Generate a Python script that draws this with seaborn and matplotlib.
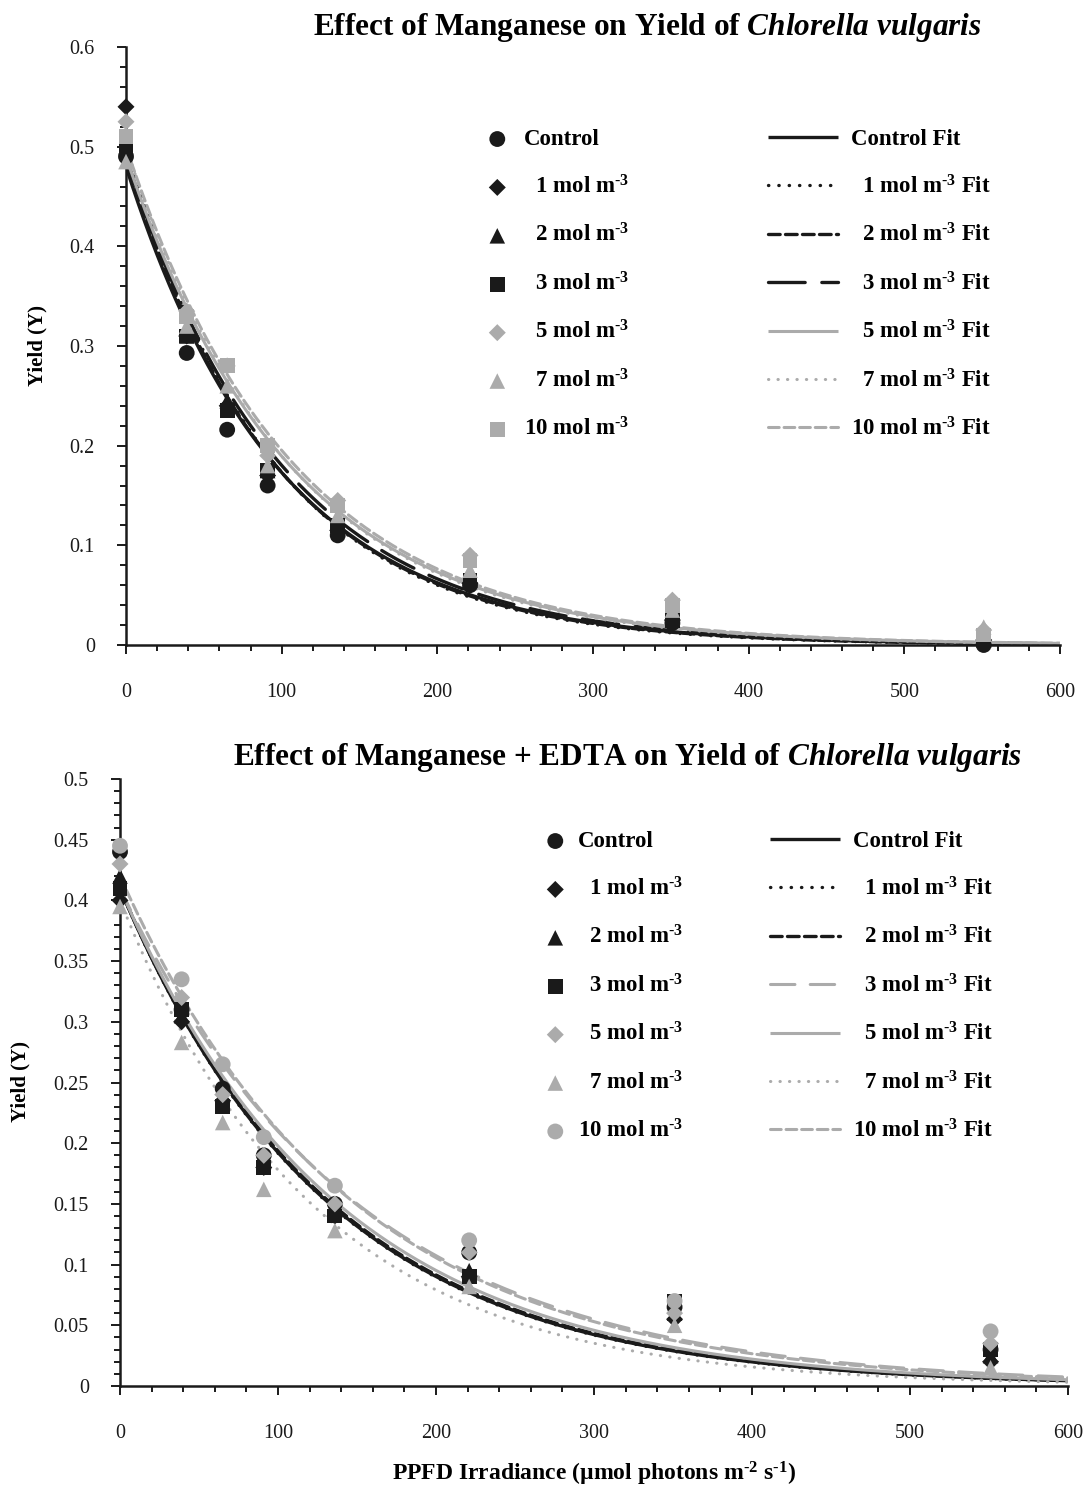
import numpy as np
import seaborn as sns
import matplotlib.pyplot as plt
from matplotlib.ticker import MultipleLocator, FuncFormatter

sns.set_theme(style="white")
plt.rcParams['font.family'] = ['Liberation Serif', 'DejaVu Serif']
plt.rcParams['mathtext.fontset'] = 'custom'
plt.rcParams['mathtext.rm'] = 'Liberation Serif:bold'
plt.rcParams['mathtext.it'] = 'Liberation Serif:italic:bold'
plt.rcParams['mathtext.bf'] = 'Liberation Serif:bold'
plt.rcParams['mathtext.default'] = 'regular'
for key in ['text.color', 'axes.labelcolor', 'xtick.color', 'ytick.color']:
    plt.rcParams[key] = 'black'

GRAY = '#ababab'

# irradiance levels (umol photons m-2 s-1)
ppfd = [0, 39, 65, 91, 136, 221, 351, 551]

# --- Manganese only (top panel) ---
mn_control = [0.490, 0.293, 0.216, 0.160, 0.110, 0.060, 0.022, 0.000]
mn_1 = [0.540, 0.310, 0.240, 0.170, 0.115, 0.062, 0.025, 0.005]
mn_2 = [0.500, 0.310, 0.245, 0.175, 0.120, 0.065, 0.025, 0.005]
mn_3 = [0.500, 0.310, 0.235, 0.175, 0.120, 0.065, 0.025, 0.005]
mn_5 = [0.525, 0.335, 0.280, 0.190, 0.145, 0.090, 0.045, 0.015]
mn_7 = [0.485, 0.320, 0.260, 0.180, 0.130, 0.075, 0.035, 0.018]
mn_10 = [0.510, 0.330, 0.280, 0.200, 0.140, 0.085, 0.040, 0.010]
# exponential fit parameters Y = a * exp(-k * PPFD)
mn_fit_a = [0.480, 0.500, 0.490, 0.490, 0.490, 0.500, 0.500]
mn_fit_k = [0.0102, 0.0106, 0.0104, 0.0100, 0.0095, 0.0097, 0.0094]

# --- Manganese + EDTA (bottom panel) ---
ed_control = [0.440, 0.310, 0.245, 0.190, 0.150, 0.110, 0.065, 0.030]
ed_1 = [0.400, 0.300, 0.235, 0.180, 0.140, 0.090, 0.055, 0.020]
ed_2 = [0.420, 0.305, 0.240, 0.185, 0.145, 0.095, 0.060, 0.025]
ed_3 = [0.410, 0.310, 0.230, 0.180, 0.140, 0.090, 0.070, 0.030]
ed_5 = [0.430, 0.320, 0.240, 0.190, 0.150, 0.110, 0.060, 0.035]
ed_7 = [0.395, 0.283, 0.217, 0.162, 0.128, 0.082, 0.050, 0.015]
ed_10 = [0.445, 0.335, 0.265, 0.205, 0.165, 0.120, 0.070, 0.045]
ed_fit_a = [0.410, 0.410, 0.410, 0.410, 0.410, 0.400, 0.420]
ed_fit_k = [0.00757, 0.00760, 0.00750, 0.00670, 0.00730, 0.00810, 0.00690]

SUP = r'$^{\text{-3}}$'
mk_labels = ["Control"] + [f"  {n} mol m{SUP}" for n in [1, 2, 3, 5, 7]] + [f"10 mol m{SUP}"]
ln_labels = ["Control Fit"] + [f"  {n} mol m{SUP} Fit" for n in [1, 2, 3, 5, 7]] + [f"10 mol m{SUP} Fit"]

DOT = (0, (0.1, 3.0))
DASH = (0, (3.5, 1.6))

top_style = dict(
    markers=['o', 'D', '^', 's', 'D', '^', 's'],
    mcolors=['k', 'k', 'k', 'k', GRAY, GRAY, GRAY],
    lstyles=['-', DOT, DASH, (0, (11, 5)), '-', DOT, DASH],
    lcolors=['k', 'k', 'k', 'k', GRAY, GRAY, GRAY],
)
bot_style = dict(
    markers=['o', 'D', '^', 's', 'D', '^', 'o'],
    mcolors=['k', 'k', 'k', 'k', GRAY, GRAY, GRAY],
    lstyles=['-', DOT, DASH, (0, (8, 5)), '-', DOT, DASH],
    lcolors=['k', 'k', 'k', GRAY, GRAY, GRAY, GRAY],
)
msize = {'o': 130, 'D': 75, '^': 125, 's': 115}

fig = plt.figure(figsize=(10.86, 14.88), dpi=100)
W, H = 1086, 1488


def px_axes(l, t, r, b):
    return fig.add_axes([l / W, 1 - b / H, (r - l) / W, (b - t) / H])


fit_x = np.linspace(0, 600, 301)
LEG_FS = 16.5


def panel(ax, data, fa, fk, st, ymax, ymajor, yminor, mk_anchor, ln_anchor, mk_hl):
    sc_h, ln_h = [], []
    for i, vals in enumerate(data):
        m = st['markers'][i]
        sns.scatterplot(x=ppfd, y=vals, ax=ax, marker=m, s=msize[m], color=st['mcolors'][i],
                        edgecolor='none', linewidth=0, legend=False, zorder=3, clip_on=False)
        sc = ax.collections[-1]
        sc.set_label(mk_labels[i])
        sc_h.append(sc)
    for i in range(len(data)):
        fy = fa[i] * np.exp(-fk[i] * fit_x)
        lw = 2.4 if st['lcolors'][i] == 'k' else 2.2
        sns.lineplot(x=fit_x, y=fy, ax=ax, color=st['lcolors'][i], linewidth=lw,
                     linestyle=st['lstyles'][i], legend=False, sort=False, estimator=None,
                     zorder=2, dash_capstyle='round', solid_capstyle='butt')
        ln = ax.lines[-1]
        ln.set_label(ln_labels[i])
        ln_h.append(ln)

    ax.set_xlim(0, 600)
    ax.set_ylim(0, ymax)
    ax.set_xlabel('')
    ax.set_ylabel('')
    for s in ['top', 'right']:
        ax.spines[s].set_visible(False)
    for s in ['left', 'bottom']:
        ax.spines[s].set_linewidth(1.8)
        ax.spines[s].set_color('k')
    ax.xaxis.set_major_locator(MultipleLocator(100))
    ax.xaxis.set_minor_locator(MultipleLocator(20))
    ax.yaxis.set_major_locator(MultipleLocator(ymajor))
    ax.yaxis.set_minor_locator(MultipleLocator(yminor))
    ax.yaxis.set_major_formatter(FuncFormatter(lambda v, p: f'{v:g}'))
    ax.tick_params(which='major', direction='out', length=6.5, width=1.4, color='k',
                   labelsize=14.5, labelcolor='k', left=True, bottom=True)
    ax.tick_params(which='minor', direction='out', length=4.3, width=1.4, color='k',
                   left=True, bottom=True)
    ax.tick_params(axis='x', which='major', pad=21)
    ax.tick_params(axis='y', which='major', pad=16)

    prop = {'weight': 'bold', 'size': LEG_FS}
    leg1 = ax.legend(handles=sc_h, loc='upper left', bbox_to_anchor=mk_anchor,
                     bbox_transform=fig.transFigure, frameon=False, prop=prop,
                     handlelength=mk_hl, handletextpad=0.6, labelspacing=1.1,
                     borderpad=0, borderaxespad=0, scatterpoints=1)
    ax.add_artist(leg1)
    ax.legend(handles=ln_h, loc='upper left', bbox_to_anchor=ln_anchor,
              bbox_transform=fig.transFigure, frameon=False, prop=prop,
              handlelength=3.06, handletextpad=0.57, labelspacing=1.1,
              borderpad=0, borderaxespad=0)


ax1 = px_axes(126, 47, 1060, 645)
panel(ax1, [mn_control, mn_1, mn_2, mn_3, mn_5, mn_7, mn_10], mn_fit_a, mn_fit_k, top_style,
      0.6, 0.1, 0.02, (484 / W, 1 - 129 / H), (768 / W, 1 - 129 / H), 1.16)

ax2 = px_axes(120, 779, 1068, 1386)
panel(ax2, [ed_control, ed_1, ed_2, ed_3, ed_5, ed_7, ed_10], ed_fit_a, ed_fit_k, bot_style,
      0.5, 0.05, 0.01, (546 / W, 1 - 831 / H), (770 / W, 1 - 831 / H), 0.81)

fig.text(647 / W, 1 - 27 / H, r'Effect of Manganese on Yield of $\mathit{Chlorella\ vulgaris}$',
         ha='center', va='center', fontsize=22.5, fontweight='bold')
fig.text(628 / W, 1 - 757 / H, r'Effect of Manganese + EDTA on Yield of $\mathit{Chlorella\ vulgaris}$',
         ha='center', va='center', fontsize=22.5, fontweight='bold')
fig.text(37 / W, 1 - 345 / H, 'Yield (Y)', rotation=90, ha='center', va='center',
         fontsize=15, fontweight='bold')
fig.text(20 / W, 1 - 1082 / H, 'Yield (Y)', rotation=90, ha='center', va='center',
         fontsize=15, fontweight='bold')
fig.text(594 / W, 1 - 1474 / H, '\u00b5mol'.join(['PPFD Irradiance (', ' photons m$^{\\text{-2}}$ s$^{\\text{-1}}$)']),
         ha='center', va='center', fontsize=17, fontweight='bold')

fig.savefig('out.png', dpi=100, facecolor='white')
